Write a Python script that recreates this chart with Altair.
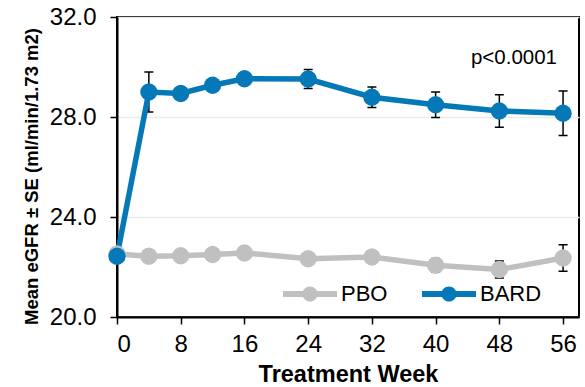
import altair as alt
import pandas as pd

# ---- data ----
weeks = [0, 4, 8, 12, 16, 24, 32, 40, 48, 56]
pbo_mean = [22.52, 22.43, 22.45, 22.50, 22.56, 22.33, 22.40, 22.07, 21.90, 22.36]
pbo_se = [0.18, 0.18, 0.18, 0.18, 0.18, 0.20, 0.22, 0.27, 0.34, 0.53]
bard_mean = [22.43, 29.00, 28.94, 29.27, 29.53, 29.52, 28.79, 28.49, 28.24, 28.15]
bard_se = [0.18, 0.80, 0.18, 0.18, 0.20, 0.38, 0.41, 0.51, 0.65, 0.89]
groups = ["PBO", "BARD"]
colors = ["#C0C0C0", "#0579B8"]
x_ticks = [0, 8, 16, 24, 32, 40, 48, 56]
y_ticks = [20, 24, 28, 32]
annotation = ["p<0.0001"]
x_title = "Treatment Week"
y_title = "Mean eGFR \u00b1 SE (ml/min/1.73 m2)"

rows = []
for g, means, ses in [("PBO", pbo_mean, pbo_se), ("BARD", bard_mean, bard_se)]:
    for w, m, s in zip(weeks, means, ses):
        rows.append({"group": g, "week": w, "mean": m, "lo": m - s, "hi": m + s})
df = pd.DataFrame(rows)

FONT = "Liberation Sans"

x_scale = alt.Scale(domain=[0, 58], nice=False, zero=False)
y_scale = alt.Scale(domain=[20, 32], nice=False, zero=False)
x_axis = alt.Axis(values=x_ticks, title=x_title, grid=False, labelPadding=8,
                  titlePadding=6, titleFontSize=23.5, labelFontSize=24)
y_axis = alt.Axis(values=y_ticks, format=".1f", title=y_title, grid=True,
                  gridColor="#ebebeb", gridWidth=1.5, labelPadding=14, labelFontSize=24,
                  titleFontSize=18.5, titleX=-76, titleY=159)

color_scale = alt.Scale(domain=groups, range=colors)

legend_symbol = ("M-1,-0.11L-0.26,-0.11L-0.26,0.11L-1,0.11Z "
                 "M0.26,-0.11L1,-0.11L1,0.11L0.26,0.11Z "
                 "M-0.28,0A0.28,0.28,0,1,1,0.28,0A0.28,0.28,0,1,1,-0.28,0Z")

color_enc = alt.Color(
    "group:N", scale=color_scale,
    legend=alt.Legend(
        orient="none", legendX=166, legendY=250, direction="horizontal",
        title=None, symbolType=legend_symbol, symbolSize=2916,
        symbolStrokeWidth=0, symbolOpacity=1,
        labelFontSize=22, labelFont=FONT,
        labelColor="black", labelOffset=4, columnPadding=34, padding=0,
    ),
)

base = alt.Chart(df).encode(
    x=alt.X("week:Q", scale=x_scale, axis=x_axis),
    color=color_enc,
)

err = base.mark_rule(strokeWidth=1.5).encode(
    y=alt.Y("lo:Q", scale=y_scale, axis=y_axis),
    y2="hi:Q",
    stroke=alt.value("black"),
)
cap_lo = base.mark_tick(orient="horizontal", size=9, thickness=1.5, opacity=1).encode(
    y=alt.Y("lo:Q", scale=y_scale, axis=y_axis),
    fill=alt.value("black"),
)
cap_hi = base.mark_tick(orient="horizontal", size=9, thickness=1.5, opacity=1).encode(
    y=alt.Y("hi:Q", scale=y_scale, axis=y_axis),
    fill=alt.value("black"),
)

lines = base.mark_line(strokeWidth=5.5).encode(
    y=alt.Y("mean:Q", scale=y_scale, axis=y_axis),
)

points = base.mark_circle(size=300, opacity=1).encode(
    y=alt.Y("mean:Q", scale=y_scale, axis=y_axis),
)

text = alt.Chart(pd.DataFrame({"t": annotation})).mark_text(
    font=FONT, fontSize=20.5, color="black", align="right", baseline="alphabetic"
).encode(x=alt.value(440), y=alt.value(46.5), text="t:N")

chart = alt.layer(err, cap_lo, cap_hi, lines, points, text).properties(
    width=462, height=300,
    autosize=alt.AutoSizeParams(type="none"),
    padding={"left": 117, "top": 17, "right": 6, "bottom": 70},
).configure_view(
    stroke="black", strokeWidth=2
).configure_axis(
    labelFont=FONT, labelColor="black",
    titleFont=FONT, titleFontWeight="bold", titleColor="black",
    domainColor="black", domainWidth=2, tickColor="black", tickWidth=1.5,
    tickSize=7,
)

chart.save("out.html", embed_options={"renderer": "svg", "actions": False})
